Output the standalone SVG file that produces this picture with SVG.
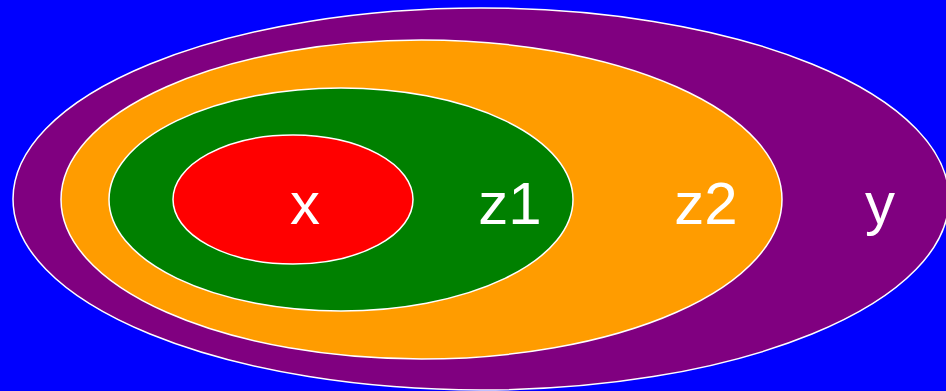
<svg xmlns="http://www.w3.org/2000/svg" width="946" height="391" viewBox="0 0 946 391">
<style>
ellipse{stroke:#fff;stroke-width:1.5}
text{font-family:"Liberation Sans",Arial,sans-serif;font-size:60px;fill:#fff;text-anchor:middle}
</style>
<rect width="946" height="391" fill="#0000ff"/>
<g id="y"><ellipse cx="481" cy="199" rx="468" ry="191" fill="#800080"/><text x="880" y="224">y</text></g>
<g id="z2"><ellipse cx="421.5" cy="199.5" rx="360.5" ry="159.5" fill="#ff9c00"/><text x="706" y="224">z2</text></g>
<g id="z1"><ellipse cx="341" cy="199.5" rx="232" ry="111.5" fill="#008000"/><text x="510" y="224">z1</text></g>
<g id="x"><ellipse cx="293" cy="199.5" rx="120" ry="64.5" fill="#ff0000"/><text x="305" y="224">x</text></g>
<g id="connectors"/>
</svg>
